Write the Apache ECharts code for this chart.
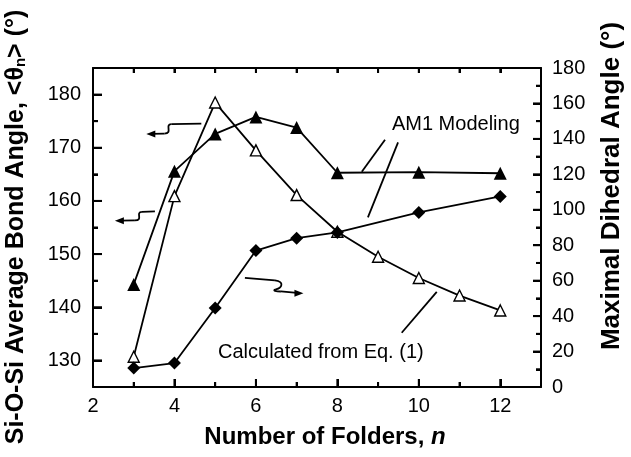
<!DOCTYPE html>
<html><head><meta charset="utf-8">
<script src="https://cdn.jsdelivr.net/npm/echarts@6/dist/echarts.min.js"></script>
<style>html,body{margin:0;padding:0;background:#fff}#c{width:631px;height:457px}</style>
</head><body><div id="c"></div>
<script>
const nAM1 = [3, 4, 5, 6, 7, 8, 10, 12];
const bondAngleAM1 = [144.3, 165.6, 172.6, 175.8, 173.8, 165.3, 165.4, 165.2];
const dihedralAM1 = [10.7, 13.5, 44.6, 77.0, 84.0, 87.2, 98.5, 107.5];
const nCalc = [3, 4, 5, 6, 7, 8, 9, 10, 11, 12];
const bondAngleCalc = [130.7, 160.9, 178.5, 169.5, 161.1, 154.2, 149.5, 145.5, 142.2, 139.4];
const xTickLabels = [2, 4, 6, 8, 10, 12];
const xMinorTicks = [3, 5, 7, 9, 11];
const topTicks = [3, 4, 5, 6, 7, 8, 9, 10, 11, 12];
const leftTickLabels = [130, 140, 150, 160, 170, 180];
const leftMinorTicks = [135, 145, 155, 165, 175];
const rightTickLabels = [0, 20, 40, 60, 80, 100, 120, 140, 160, 180];
const rightMinorTicks = [10, 30, 50, 70, 90, 110, 130, 150, 170];

const FONT = '"Liberation Sans", Arial, sans-serif';
const chart = echarts.init(document.getElementById('c'), null, {renderer: 'canvas'});
const black = '#000';
function lab(margin, list) {
  return {show: true, margin: margin, fontSize: 20, color: black, fontFamily: FONT,
    formatter: v => (list.indexOf(Math.round(v * 1000) / 1000) >= 0 ? String(v) : '')};
}
function ax(min, max, extra) {
  return Object.assign({type: 'value', min: min, max: max, splitLine: {show: false}}, extra);
}
function tick(len) {
  return {show: true, inside: true, length: len, lineStyle: {color: black, width: 2}};
}
function line(show) {
  return {show: show, onZero: false, lineStyle: {color: black, width: 2}};
}

chart.setOption({
  animation: false,
  backgroundColor: '#fff',
  grid: {left: 93, top: 68, width: 448, height: 319},
  xAxis: [
    ax(2, 13, {position: 'bottom', splitNumber: 5, axisLine: line(true), axisTick: tick(8), axisLabel: lab(9, xTickLabels)}),
    ax(2, 13, {position: 'bottom', interval: 1, axisLine: line(false), axisTick: tick(5), axisLabel: {show: false}}),
    ax(2, 13, {position: 'top', interval: 1, axisLine: line(true), axisTick: tick(5), axisLabel: {show: false}})
  ],
  yAxis: [
    ax(125, 185, {position: 'left', splitNumber: 6, axisLine: line(true), axisTick: tick(9), axisLabel: lab(12, leftTickLabels)}),
    ax(0, 180, {position: 'right', interval: 20, axisLine: line(true), axisTick: tick(8), axisLabel: lab(11, rightTickLabels)}),
    ax(125, 185, {position: 'left', interval: 5, axisLine: line(false), axisTick: tick(5), axisLabel: {show: false}}),
    ax(0, 180, {position: 'right', interval: 10, axisLine: line(false), axisTick: tick(5), axisLabel: {show: false}})
  ],
  series: [
    {name: 'AM1 bond angle', type: 'line', xAxisIndex: 0, yAxisIndex: 0,
      data: nAM1.map((n, i) => [n, bondAngleAM1[i]]),
      symbol: 'triangle', symbolSize: 13, showSymbol: true,
      itemStyle: {color: black}, lineStyle: {color: black, width: 1.8}},
    {name: 'Calculated bond angle', type: 'line', xAxisIndex: 0, yAxisIndex: 0,
      data: nCalc.map((n, i) => [n, bondAngleCalc[i]]),
      symbol: 'triangle', symbolSize: 11, showSymbol: true,
      itemStyle: {color: '#fff', borderColor: black, borderWidth: 1.4},
      lineStyle: {color: black, width: 1.8}},
    {name: 'AM1 dihedral angle', type: 'line', xAxisIndex: 0, yAxisIndex: 1,
      data: nAM1.map((n, i) => [n, dihedralAM1[i]]),
      symbol: 'diamond', symbolSize: 13, showSymbol: true,
      itemStyle: {color: black}, lineStyle: {color: black, width: 1.8}}
  ]
});

function P(x, y) { return chart.convertToPixel({xAxisIndex: 0, yAxisIndex: 0}, [x, y]); }
function PR(y) { return chart.convertToPixel({xAxisIndex: 0, yAxisIndex: 1}, [2, y])[1]; }
function py(v) { return 130 + (360.7 - v) / 5.314; }
const ann = {fill: black, font: '20px ' + FONT};
const strk = {stroke: black, lineWidth: 1.8, fill: null};

const pAM1 = P(9.34, 174.4);
const pCalc = P(5.07, 131.4);
const l1a = P(9.17, 171.5), l1b = P(8.60, 165.5);
const l2a = P(9.49, 171.0), l2b = P(8.75, 156.9);
const l3a = P(10.44, 142.9), l3b = P(9.58, 135.2);
const a1 = P(4.66, py(124));
const a2 = P(3.52, py(211.7));
const a3 = P(5.73, py(278.3));

function seg(x1, y1, x2, y2, w) {
  return {type: 'line', z: 100, shape: {x1: x1, y1: y1, x2: x2, y2: y2}, style: {stroke: black, lineWidth: w || 1.8}};
}
function bez(x1, y1, c1x, c1y, c2x, c2y, x2, y2) {
  return {type: 'bezierCurve', shape: {x1: x1, y1: y1, cpx1: c1x, cpy1: c1y, cpx2: c2x, cpy2: c2y, x2: x2, y2: y2}, style: strk};
}
function head(tipX, tipY, dir) {
  return {type: 'polygon', shape: {points: [[tipX, tipY], [tipX - dir * 9, tipY - 3.5], [tipX - dir * 9, tipY + 3.5]]}, style: {fill: black}};
}
function leftArrow(s, h1, drop, tail) {
  const x = s[0], y = s[1];
  const x1 = x - h1, x2 = x1 - 7, tip = x2 - tail;
  return [
    seg(x, y, x1, y + 0.5),
    bez(x1, y + 0.5, x1 - 7, y + 1, x1 + 2, y + drop, x2, y + drop),
    seg(x2, y + drop, tip + 5, y + drop + 0.3),
    head(tip, y + drop + 0.3, -1)
  ];
}
function rightArrow(s) {
  const x = s[0], y = s[1];
  return [
    seg(x, y, x + 30, y + 2.5),
    bez(x + 30, y + 2.5, x + 40, y + 4, x + 37, y + 10, x + 31, y + 11.5),
    bez(x + 31, y + 11.5, x + 27, y + 12.5, x + 31, y + 13.5, x + 36, y + 13.5),
    seg(x + 36, y + 13.5, x + 52, y + 15),
    head(x + 58.5, y + 15.2, 1)
  ];
}

// inward tick marks, positioned through the axes' own scales
const xL = P(2, 130)[0], xRt = P(13, 130)[0];
const yB = P(2, 125)[1], yT = P(2, 185)[1];
const tickMarks = [];
leftTickLabels.forEach(v => { const y = P(2, v)[1]; tickMarks.push(seg(xL, y, xL + 9, y, 2)); });
leftMinorTicks.forEach(v => { const y = P(2, v)[1]; tickMarks.push(seg(xL, y, xL + 5, y, 2)); });
rightTickLabels.forEach(v => { const y = PR(v); tickMarks.push(seg(xRt, y, xRt - 8, y, 2)); });
rightMinorTicks.forEach(v => { const y = PR(v); tickMarks.push(seg(xRt, y, xRt - 5, y, 2)); });
xTickLabels.forEach(v => { const x = P(v, 130)[0]; tickMarks.push(seg(x, yB, x, yB - 8, 2)); });
xMinorTicks.forEach(v => { const x = P(v, 130)[0]; tickMarks.push(seg(x, yB, x, yB - 5, 2)); });
topTicks.forEach(v => { const x = P(v, 130)[0]; tickMarks.push(seg(x, yT, x, yT + 5, 2)); });

const graphics = [
  {type: 'text', x: 16, y: 227, rotation: Math.PI / 2,
    style: {text: '{b|Si-O-Si Average Bond Angle, <θ}{s|n}{b|> (°)}', align: 'center', verticalAlign: 'middle',
      rich: {b: {fontSize: 25, fontWeight: 'bold', fontFamily: FONT, fill: black, lineHeight: 30},
             s: {fontSize: 15, fontWeight: 'bold', fontFamily: FONT, fill: black, lineHeight: 30, padding: [10, 0, 0, 0]}}}},
  {type: 'text', x: 612, y: 186, rotation: Math.PI / 2,
    style: {text: 'Maximal Dihedral Angle (°)', align: 'center', verticalAlign: 'middle',
      font: 'bold 26px ' + FONT, fill: black}},
  {type: 'text', x: 325, y: 437,
    style: {text: '{b|Number of Folders, }{i|n}', align: 'center', verticalAlign: 'middle',
      rich: {b: {fontSize: 24, fontWeight: 'bold', fontFamily: FONT, fill: black},
             i: {fontSize: 24, fontWeight: 'bold', fontStyle: 'italic', fontFamily: FONT, fill: black}}}},
  {type: 'text', x: pAM1[0], y: pAM1[1], style: Object.assign({text: 'AM1 Modeling', align: 'left', verticalAlign: 'middle'}, ann)},
  {type: 'text', x: pCalc[0], y: pCalc[1], style: Object.assign({text: 'Calculated from Eq. (1)', align: 'left', verticalAlign: 'middle'}, ann)},
  seg(l1a[0], l1a[1], l1b[0], l1b[1]),
  seg(l2a[0], l2a[1], l2b[0], l2b[1]),
  seg(l3a[0], l3a[1], l3b[0], l3b[1])
].concat(leftArrow(a1, 30, 10, 18), leftArrow(a2, 13, 9, 20), rightArrow(a3), tickMarks);

chart.setOption({graphic: graphics});
</script></body></html>
